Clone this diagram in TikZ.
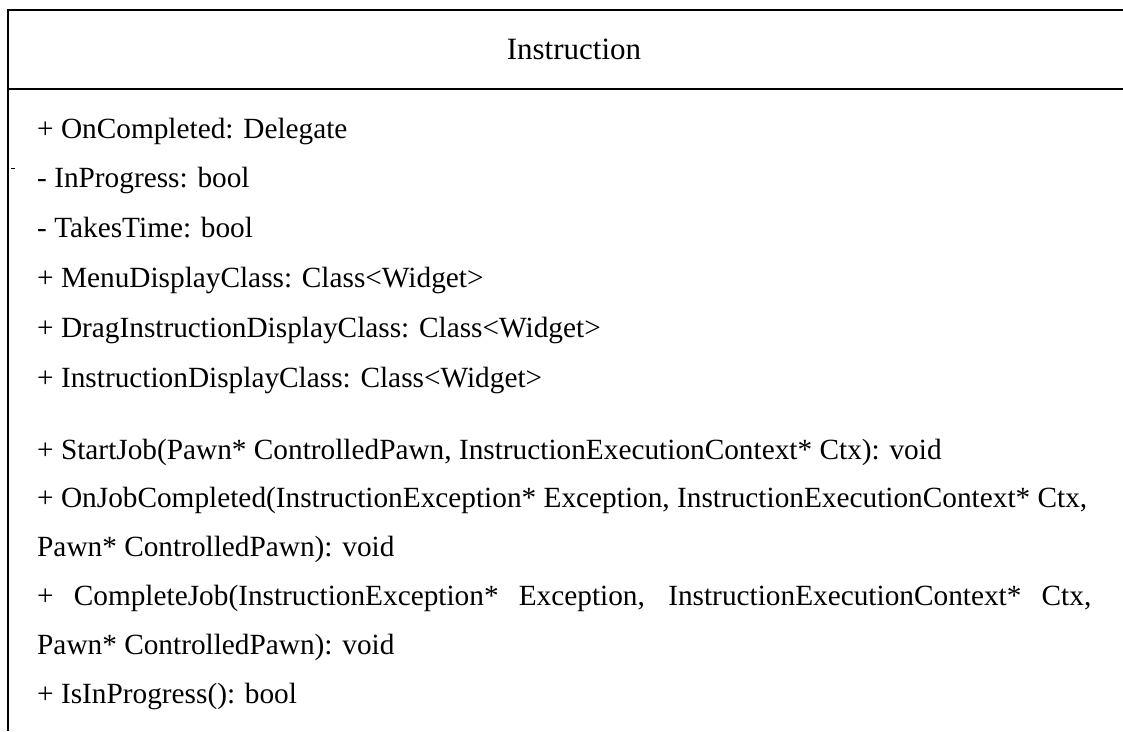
\documentclass[tikz,border=0pt]{standalone}
\usepackage{fontspec}
\setmainfont{Liberation Serif}
\begin{document}
\begin{tikzpicture}[x=1pt,y=-1pt,
  frame/.style={line width=2pt,black},
  sepline/.style={line width=1.6pt,black},
  body/.style={anchor=base west,inner sep=0pt,font=\fontsize{29.3}{35}\selectfont},
  title/.style={anchor=base,inner sep=0pt,font=\fontsize{31}{36}\selectfont}]
\useasboundingbox (0,0) rectangle (1123,731);
\coordinate (tl) at (7,10);
\coordinate (tr) at (1123,10);
\coordinate (bl) at (8,731);
\coordinate (sl) at (8,89);
\coordinate (sr) at (1123,89);
\draw[frame] (tl) -- (tr);
\draw[frame] (8,9) -- (bl);
\draw[sepline] (sl) -- (sr);
\coordinate (d1) at (11,168);
\coordinate (d2) at (15,168);
\draw[line width=1pt] (d1) -- (d2);
\node[title] (t) at (574,59) {Instruction};
\node[body] (a1) at (37,138) {+ OnCompleted: Delegate};
\node[body] (a2) at (37,187.8) {- InProgress: bool};
\node[body] (a3) at (37,237.6) {- TakesTime: bool};
\node[body] (a4) at (37,287.4) {+ MenuDisplayClass: Class<Widget>};
\node[body] (a5) at (37,337.2) {+ DragInstructionDisplayClass: Class<Widget>};
\node[body] (a6) at (37,387) {+ InstructionDisplayClass: Class<Widget>};
\node[body] (m1) at (37,459) {+ StartJob(Pawn* ControlledPawn, InstructionExecutionContext* Ctx): void};
\node[body] (m2) at (37,507.8) {+ OnJobCompleted(InstructionException* Exception, InstructionExecutionContext* Ctx,};
\node[body] (m3) at (37,556.6) {Pawn* ControlledPawn): void};
\node[body] (m4) at (37,605.4) {\makebox[1054pt][s]{+ CompleteJob(InstructionException* Exception, InstructionExecutionContext* Ctx,}};
\node[body] (m5) at (37,654.2) {Pawn* ControlledPawn): void};
\node[body] (m6) at (37,703) {+ IsInProgress(): bool};
\end{tikzpicture}
\end{document}
